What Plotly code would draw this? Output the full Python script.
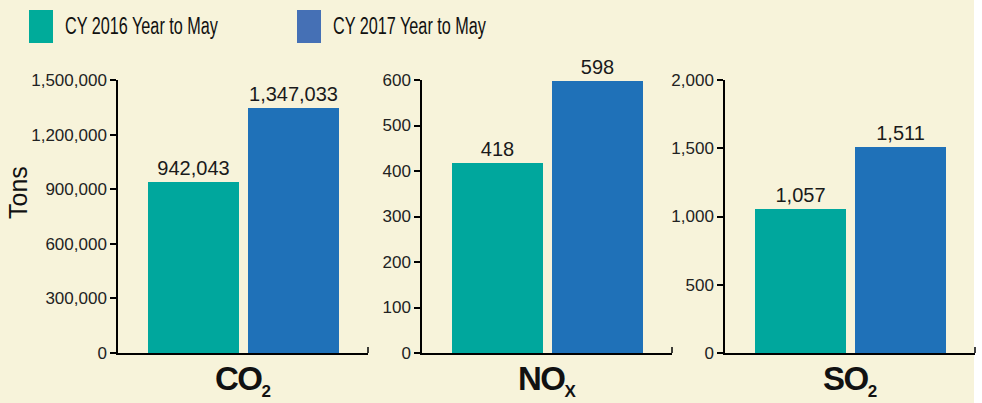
import plotly.graph_objects as go

# ---- data ----
pollutants = ["CO<sub>2</sub>", "NO<sub>X</sub>", "SO<sub>2</sub>"]
years = ["CY 2016 Year to May", "CY 2017 Year to May"]
values_2016 = [942043, 418, 1057]
values_2017 = [1347033, 598, 1511]
y_ranges = [(0, 1500000), (0, 600), (0, 2000)]
y_dticks = [300000, 100, 500]

# ---- styles ----
W, H = 982, 403
BG = "#F7F3DA"
BAR_COLORS = ["#00A79D", "#1F71B8"]
LEG_COLORS = ["#00AB9A", "#4570B5"]
FONT = "Liberation Sans, Arial, sans-serif"

x_domains = [(118, 368), (422, 672), (725, 975)]
y_bottom, y_top = 353, 80
ydom = [1 - y_bottom / H, 1 - y_top / H]

fig = go.Figure()
layout = dict(
    width=W, height=H, autosize=False,
    margin=dict(l=0, r=0, t=0, b=0, pad=0, autoexpand=False),
    paper_bgcolor=BG, plot_bgcolor="rgba(0,0,0,0)",
    showlegend=False,
    font=dict(family=FONT, color="#222"),
    bargap=0,
)
shapes = []
annotations = []

for i, name in enumerate(pollutants):
    s = "" if i == 0 else str(i + 1)
    xa, ya = "x" + s, "y" + s
    vals = [values_2016[i], values_2017[i]]
    fig.add_trace(go.Bar(
        x=years, y=vals, xaxis=xa, yaxis=ya,
        marker=dict(color=BAR_COLORS, line=dict(width=0)),
        width=0.91,
        text=[f"{v:,}" for v in vals],
        textposition="outside",
        constraintext="none",
        cliponaxis=False,
        textfont=dict(family=FONT, size=20, color="#1a1a1a"),
        hoverinfo="skip",
    ))
    d0, d1 = x_domains[i]
    layout["xaxis" + s] = dict(
        domain=[d0 / W, d1 / W], anchor=ya,
        type="category", categoryorder="array", categoryarray=years,
        range=[-0.755, 1.745], automargin=False,
        showticklabels=False, ticks="",
        showline=True, linecolor="black", linewidth=1.5,
        showgrid=False, zeroline=False, fixedrange=True,
    )
    layout["yaxis" + s] = dict(
        domain=ydom, anchor=xa, automargin=False,
        range=list(y_ranges[i]), dtick=y_dticks[i], tick0=0,
        tickformat=",d",
        ticks="outside", ticklen=6, tickwidth=1.5, tickcolor="black",
        showline=True, linecolor="black", linewidth=1.5,
        showgrid=False, zeroline=False, fixedrange=True,
        tickfont=dict(family=FONT, size=17, color="#222"),
    )
    # small upward tick at right end of x axis
    shapes.append(dict(
        type="line", xref=xa + " domain", yref=ya,
        x0=1, x1=1, ysizemode="pixel", yanchor=0, y0=0, y1=6,
        line=dict(color="black", width=1.5),
    ))
    base, sub = name.split("<sub>")
    sub = sub.replace("</sub>", "")
    label = (f"<b><span style='letter-spacing:-1.5px'>{base}</span>"
             f"<sub><span style='font-size:17px'>{sub}</span></sub></b>")
    annotations.append(dict(
        text=label,
        xref=xa + " domain", yref="paper",
        x=0.5, y=1 - 380 / H, xanchor="center", yanchor="middle",
        showarrow=False,
        font=dict(family=FONT, size=33, color="#111"),
    ))

# y-axis title
annotations.append(dict(
    text="Tons", xref="paper", yref="paper",
    x=18 / W, y=1 - 193 / H, xanchor="center", yanchor="middle",
    textangle=-90, showarrow=False,
    font=dict(family=FONT, size=25, color="#111"),
))

# legend (drawn manually)
leg_x = [29, 297]
for j, yr in enumerate(years):
    x0 = leg_x[j]
    shapes.append(dict(
        type="rect", xref="paper", yref="paper",
        x0=x0 / W, x1=(x0 + 24) / W, y0=1 - 43 / H, y1=1 - 10 / H,
        fillcolor=LEG_COLORS[j], line=dict(width=0),
    ))
    annotations.append(dict(
        text=yr,
        xref="paper", yref="paper",
        x=(x0 + 36 + 76.5) / W, y=1 - 26 / H, xanchor="center", yanchor="middle",
        showarrow=False,
        font=dict(family=FONT, size=23, color="#111"),
    ))

# white strip at right edge
shapes.append(dict(
    type="rect", xref="paper", yref="paper", x0=974 / W, x1=1, y0=0, y1=1,
    fillcolor="white", line=dict(width=0), layer="below",
))

layout["shapes"] = shapes
layout["annotations"] = annotations
fig.update_layout(**layout)

post = """
document.body.style.margin='0';
document.body.style.overflow='hidden';
var gd = document.getElementById('{plot_id}');
gd.querySelectorAll('text.annotation-text').forEach(function(t){
  if (t.textContent.indexOf('Year to May') >= 0) {
    t.setAttribute('textLength', '153');
    t.setAttribute('lengthAdjust', 'spacingAndGlyphs');
  }
});
"""
fig.write_html("out.html", config={"displayModeBar": False}, post_script=post)
